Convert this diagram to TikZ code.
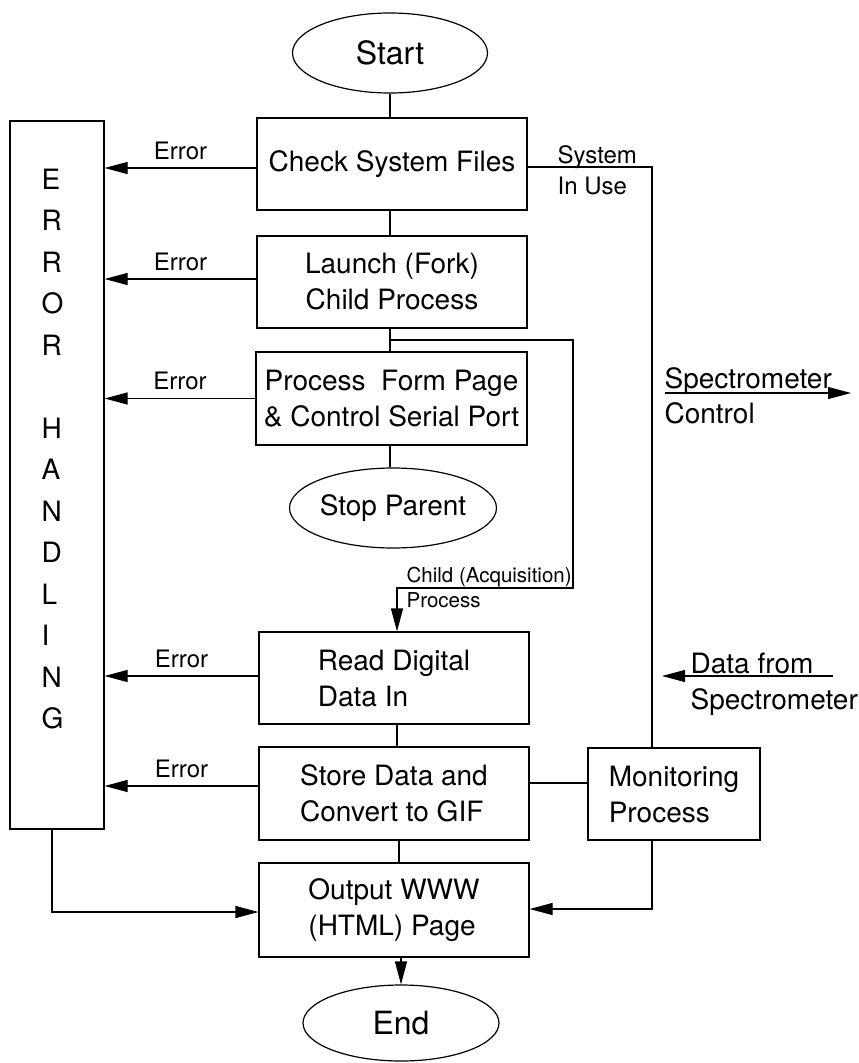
\documentclass[tikz,border=0pt]{standalone}
\usepackage{fontspec}
\setmainfont{TeX Gyre Heros}
\usetikzlibrary{arrows.meta,shapes.geometric,calc}
\begin{document}
\begin{tikzpicture}[x=1pt,y=-1pt,
  line width=1.2pt,
  box/.style={draw, rectangle, inner sep=0pt, align=center, font=\fontsize{28}{36}\selectfont},
  oval/.style={draw, ellipse, inner sep=0pt},
  arr/.style={-{Triangle[length=23pt,width=12pt]}},
  small/.style={font=\fontsize{24}{31}\selectfont, inner sep=0pt, align=left},
  big/.style={font=\fontsize{28}{35}\selectfont, inner sep=0pt, align=left},
]
\useasboundingbox[fill=white] (0,0) rectangle (859,1063);

% main nodes
\node[oval, minimum width=195pt, minimum height=80pt, font=\fontsize{32}{36}\selectfont] (start) at (390,53) {Start};
\node[box, minimum width=270pt, minimum height=92pt] (check) at (392,164) {Check System Files};
\node[box, minimum width=270pt, minimum height=92pt] (launch) at (392,282) {Launch (Fork)\\Child Process};
\node[box, minimum width=271pt, minimum height=93pt] (proc) at (391.5,398.5) {Process\ \ Form Page\\\& Control Serial Port};
\node[oval, minimum width=196pt, minimum height=80pt, font=\fontsize{28}{36}\selectfont] (stopp) at (393,508) {Stop Parent};
\node[box, align=left, minimum width=270pt, minimum height=92pt] (read) at (394,678) {Read Digital\\Data In};
\node[box, align=left, minimum width=270pt, minimum height=93pt] (store) at (394,793.5) {Store Data and\\Convert to GIF};
\node[box, align=left, minimum width=270pt, minimum height=94pt] (output) at (394,910) {Output WWW\\(HTML) Page};
\node[box, align=left, minimum width=172pt, minimum height=92pt] (monitor) at (674,794) {Monitoring\\Process};
\node[oval, minimum width=196pt, minimum height=76pt, font=\fontsize{32}{36}\selectfont] (endn) at (401,1023) {End};

% error handling box
\node[draw, rectangle, minimum width=94pt, minimum height=708pt, inner sep=0pt] (errorbox) at (57,475) {};
\node[big, anchor=north west, font=\fontsize{28}{41.5}\selectfont] (errtext) at (41,168)
  {E\\R\\R\\O\\R\\[41.5pt]H\\A\\N\\D\\L\\I\\N\\G};

% vertical flow
\draw (start.south) -- (start.south |- check.north);
\draw (start.south |- check.south) -- (start.south |- launch.north);
\draw (start.south |- launch.south) -- (start.south |- proc.north);
\draw (start.south |- proc.south) -- (start.south |- stopp.north);
\coordinate (fork) at (390,340);
\coordinate (cr) at (573,588);
\draw[arr] (fork) -| (cr) -| ($(read.north)+(3,0)$);
\node[font=\fontsize{20.5}{25}\selectfont, inner sep=0pt, align=left, anchor=north west] (childlbl) at (406,567) {Child (Acquisition)\\Process};
\draw ($(read.south)+(3,0)$) -- ($(store.north)+(3,0)$);
\draw ($(store.south)+(5,0)$) -- ($(output.north)+(5,0)$);
\draw[arr] (endn.north |- output.south) -- (endn.north);

% error arrows
\draw[arr] ($(check.west)+(0,4)$) -- ($(check.west -| errorbox.east)+(0,4)$)
  node[midway, above=8pt, small, anchor=south] (err1) {Error};
\draw[arr] ($(launch.west)+(0,-3)$) -- ($(launch.west -| errorbox.east)+(0,-3)$)
  node[midway, above=8pt, small, anchor=south] (err2) {Error};
\draw[arr] (proc.west) -- (proc.west -| errorbox.east)
  node[midway, above=8pt, small, anchor=south] (err3) {Error};
\draw[arr] ($(read.west)+(0,-2)$) -- ($(read.west -| errorbox.east)+(0,-2)$)
  node[midway, above=8pt, small, anchor=south] (err4) {Error};
\draw[arr] ($(store.west)+(0,-7.5)$) -- ($(store.west -| errorbox.east)+(0,-7.5)$)
  node[midway, above=8pt, small, anchor=south] (err5) {Error};

% system in use / monitoring
\draw ($(check.east)+(0,3)$) -| ($(monitor.north)+(-22,0)$);
\node[small, anchor=north west] (siu) at (557,145) {System\\In Use};
\draw ($(store.east)+(0,-10.5)$) -- ($(monitor.west)+(0,-11)$);
\draw[arr] ($(errorbox.south)+(-5,0)$) |- ($(output.west)+(0,2)$);
\draw[arr] ($(monitor.south)+(-22,0)$) |- ($(output.east)+(0,-1)$);

% spectrometer control
\coordinate (sc1) at (665,393);
\coordinate (sc2) at (851,393);
\draw[arr] (sc1) -- (sc2);
\node[big, anchor=north west] (sctext) at (664,367) {Spectrometer\\Control};

% data from spectrometer
\coordinate (df1) at (833,676);
\coordinate (df2) at (662,676);
\draw[arr] (df1) -- (df2);
\node[big, anchor=north west, font=\fontsize{28}{36}\selectfont] (dftext) at (690,652) {Data from\\Spectrometer};
\end{tikzpicture}
\end{document}
